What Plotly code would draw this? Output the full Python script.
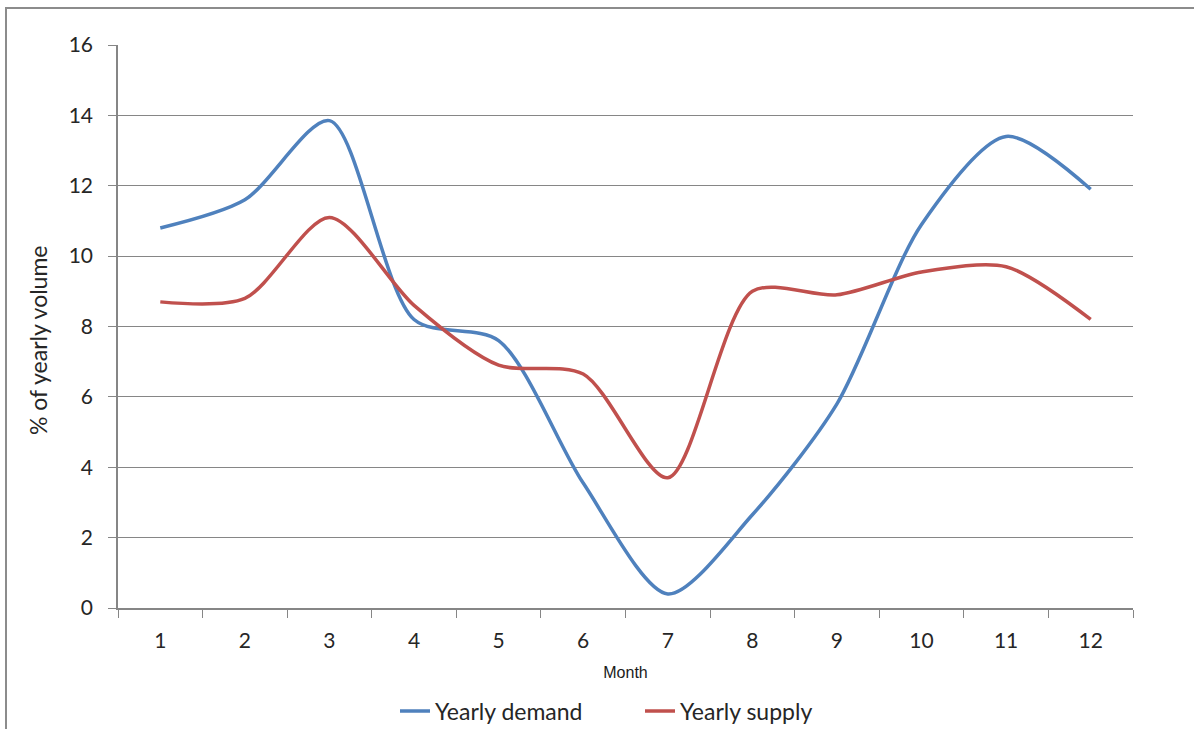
import plotly.graph_objects as go

months = ["1", "2", "3", "4", "5", "6", "7", "8", "9", "10", "11", "12"]
demand = [10.8, 11.6, 13.85, 8.2, 7.6, 3.55, 0.4, 2.65, 5.8, 10.9, 13.4, 11.9]
supply = [8.7, 8.8, 11.1, 8.6, 6.9, 6.65, 3.7, 9.0, 8.9, 9.55, 9.7, 8.2]

fig = go.Figure()
fig.add_trace(go.Scatter(x=months, y=demand, mode="lines", name="Yearly demand",
                         line=dict(color="#4F81BD", width=3.5, shape="spline", smoothing=0.8)))
fig.add_trace(go.Scatter(x=months, y=supply, mode="lines", name="Yearly supply",
                         line=dict(color="#C0504D", width=3.5, shape="spline", smoothing=0.8)))

L, R, T, B = 118, 1133, 45, 608
W, H = 1194, 729
pw, ph = R - L, B - T

fig.update_layout(
    width=W, height=H,
    margin=dict(l=L, r=W - R, t=T, b=H - B, autoexpand=False),
    plot_bgcolor="white", paper_bgcolor="white",
    font=dict(family="Lato, Open Sans, sans-serif", color="#262626", size=21),
    showlegend=True,
    legend=dict(orientation="h", x=(395 - L) / pw, xanchor="left", y=(B - 711) / ph, yanchor="middle",
                font=dict(size=23), tracegroupgap=0, entrywidth=200, entrywidthmode="pixels"),
    xaxis=dict(type="category", range=[-0.5, 11.5], showgrid=False,
               showline=True, linecolor="#868686", linewidth=1.5,
               ticks="outside", tickson="boundaries", ticklen=8, tickcolor="#868686",
               tickfont=dict(size=21), ticklabelstandoff=13,
               title=dict(text="Month", font=dict(family="Liberation Sans, Arial", size=16, color="#1a1a1a"),
                          standoff=16)),
    yaxis=dict(range=[0, 16], dtick=2, showgrid=True, gridcolor="#868686", gridwidth=1,
               showline=True, linecolor="#868686", linewidth=1.5,
               ticks="outside", ticklen=8, tickcolor="#868686",
               tickfont=dict(size=21), zeroline=False, ticklabelstandoff=11),
    annotations=[dict(text="% of yearly volume", xref="paper", yref="paper",
                      x=(38 - L) / pw, y=(B - 340) / ph, xanchor="center", yanchor="middle",
                      textangle=-90, showarrow=False, font=dict(size=23))],
    shapes=[dict(type="rect", xref="paper", yref="paper",
                 x0=(6 - L) / pw, x1=(1205 - L) / pw,
                 y0=(B - 740) / ph, y1=(B - 8) / ph,
                 line=dict(color="#8c8c8c", width=2), layer="below")],
)

fig.write_html("out.html", config={"displayModeBar": False},
               post_script="document.body.style.margin='0px';document.body.style.overflow='hidden';")
